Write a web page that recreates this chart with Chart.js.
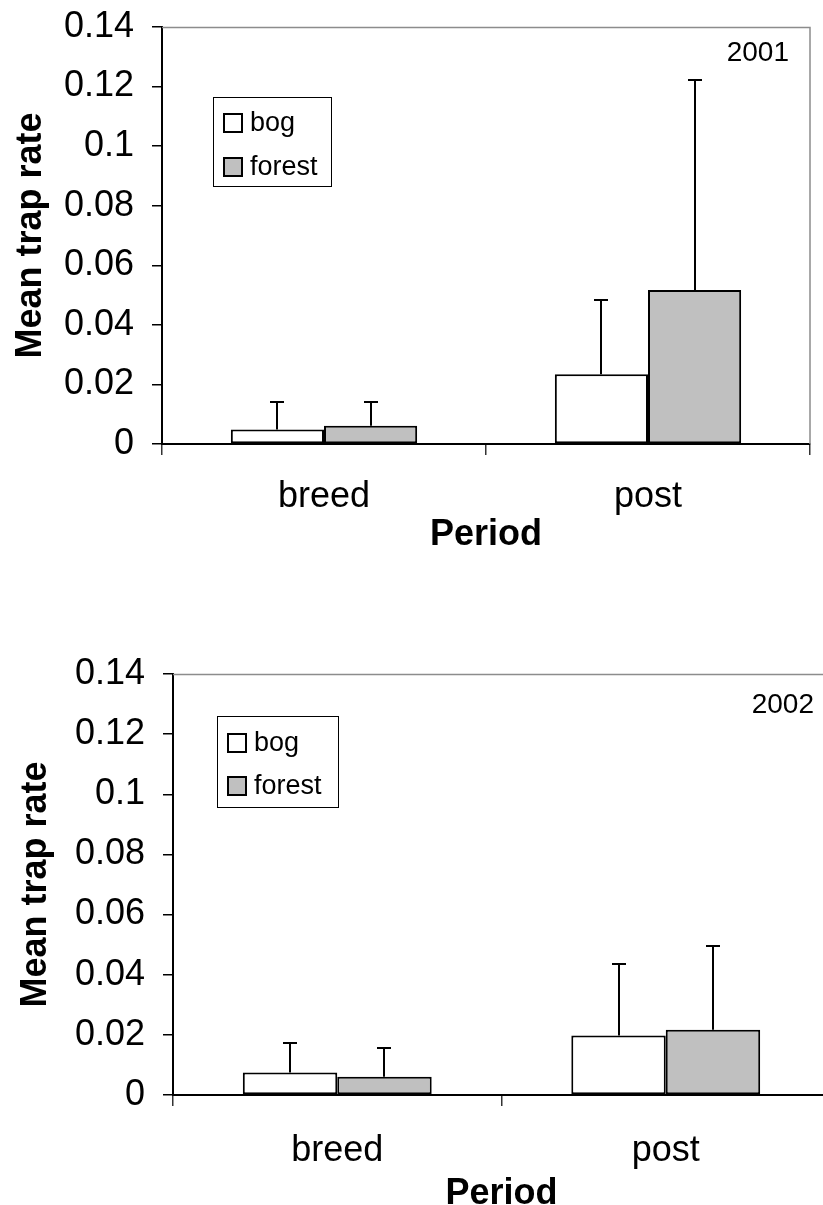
<!DOCTYPE html>
<html><head><meta charset="utf-8">
<script src="https://cdn.jsdelivr.net/npm/chart.js@4.4.1/dist/chart.umd.min.js"></script>
<style>
html,body{margin:0;padding:0;background:#fff;overflow:hidden;width:823px;height:1205px;position:relative;}
canvas{position:absolute;left:0;}
#c1{top:0}
#c2{top:640px}
</style></head><body>
<canvas id="c1" width="823" height="600"></canvas>
<canvas id="c2" width="850" height="600"></canvas>
<script>
const categories = ['breed', 'post'];
const seriesNames = ['bog', 'forest'];
const yTickLabels = ['0', '0.02', '0.04', '0.06', '0.08', '0.1', '0.12', '0.14'];
const yearLabels = ['2001', '2002'];

const bog2001 = [0.0049, 0.0234];
const forest2001 = [0.0061, 0.0517];
const bogErr2001 = [0.0092, 0.0251];
const forestErr2001 = [0.0080, 0.0704];

const bog2002 = [0.0075, 0.0198];
const forest2002 = [0.0061, 0.0217];
const bogErr2002 = [0.0099, 0.0237];
const forestErr2002 = [0.0094, 0.0280];

const FONT = "'Liberation Sans', Arial, Helvetica, sans-serif";
const seriesColors = ['#ffffff', '#c0c0c0'];

const decor = {
  id: 'decor',
  afterDatasetsDraw(chart, args, o) {
    const ctx = chart.ctx, y = chart.scales.y;
    ctx.save();
    ctx.strokeStyle = '#000'; ctx.lineWidth = 2;
    chart.data.datasets.forEach((ds, i) => {
      chart.getDatasetMeta(i).data.forEach((bar, j) => {
        const top = Math.round(y.getPixelForValue(ds.data[j] + ds.errors[j]));
        const x = Math.round(bar.x);
        ctx.beginPath();
        ctx.moveTo(x, bar.y); ctx.lineTo(x, top);
        ctx.moveTo(x - 7, top); ctx.lineTo(x + 7, top);
        ctx.stroke();
      });
    });
    ctx.restore();
  },
  afterDraw(chart, args, o) {
    const ctx = chart.ctx, ca = chart.chartArea;
    ctx.save();
    ctx.strokeStyle = '#8c8c8c'; ctx.lineWidth = 1.5;
    ctx.beginPath();
    ctx.moveTo(ca.left, ca.top + 0.5); ctx.lineTo(ca.right, ca.top + 0.5);
    ctx.lineTo(ca.right, ca.bottom);
    ctx.stroke();
    ctx.fillStyle = '#000';
    ctx.font = '28px ' + FONT;
    ctx.textAlign = 'right'; ctx.textBaseline = 'middle';
    ctx.fillText(o.year, o.yearX, o.yearY);
    const L = o.legend;
    ctx.fillStyle = '#fff';
    ctx.fillRect(L.x, L.y, L.w, L.h);
    ctx.strokeStyle = '#000'; ctx.lineWidth = 1;
    ctx.strokeRect(L.x + 0.5, L.y + 0.5, L.w, L.h);
    ctx.font = '27px ' + FONT;
    ctx.textAlign = 'left';
    chart.data.datasets.forEach((ds, i) => {
      const sy = L.swY[i];
      ctx.fillStyle = ds.backgroundColor;
      ctx.fillRect(L.swX, sy, L.sw, L.sw);
      ctx.strokeStyle = '#000'; ctx.lineWidth = 2;
      ctx.strokeRect(L.swX, sy, L.sw, L.sw);
      ctx.fillStyle = '#000';
      ctx.fillText(ds.label, L.textX, sy + L.sw / 2 + 1);
    });
    ctx.restore();
  }
};

function makeChart(id, bog, forest, bogErr, forestErr, lay) {
  return new Chart(document.getElementById(id), {
    type: 'bar',
    data: {
      labels: categories,
      datasets: [
        { label: seriesNames[0], data: bog, errors: bogErr, backgroundColor: seriesColors[0],
          borderColor: '#000', borderWidth: 2, borderSkipped: false },
        { label: seriesNames[1], data: forest, errors: forestErr, backgroundColor: seriesColors[1],
          borderColor: '#000', borderWidth: 2, borderSkipped: false }
      ]
    },
    options: {
      responsive: false,
      animation: false,
      devicePixelRatio: 1,
      layout: { padding: { top: lay.top, right: lay.right, left: 0, bottom: 0 } },
      datasets: { bar: { categoryPercentage: 0.575, barPercentage: 1.0 } },
      plugins: {
        legend: { display: false },
        tooltip: { enabled: false },
        decor: { year: lay.year, yearX: lay.yearX, yearY: lay.yearY, legend: lay.legend }
      },
      scales: {
        x: {
          offset: true,
          afterFit(s) { s.height = lay.xH; s.paddingLeft = 0; s.paddingRight = 0; },
          grid: { offset: true, drawOnChartArea: false, drawTicks: true, tickLength: 11, color: '#333', lineWidth: 1.5 },
          border: { display: true, color: '#000', width: 2 },
          ticks: { color: '#000', font: { family: FONT, size: 36 }, padding: lay.xPad },
          title: { display: true, text: 'Period', color: '#000',
                   font: { family: FONT, size: 36, weight: 'bold' }, padding: { top: 0, bottom: lay.titlePad } }
        },
        y: {
          min: 0, max: 0.14,
          afterFit(s) { s.width = lay.yW; s.paddingTop = 0; s.paddingBottom = 0; },
          ticks: { stepSize: 0.02, color: '#000', font: { family: FONT, size: 36 }, padding: 18,
                   callback: (v, i) => yTickLabels[i] },
          grid: { drawOnChartArea: false, drawTicks: true, tickLength: 10, color: '#000', lineWidth: 1.5 },
          border: { display: true, color: '#000', width: 2 },
          title: { display: true, text: 'Mean trap rate', color: '#000',
                   font: { family: FONT, size: 36, weight: 'bold' }, padding: { top: lay.yTitlePad, bottom: 0 } }
        }
      }
    },
    plugins: [decor]
  });
}

makeChart('c1', bog2001, forest2001, bogErr2001, forestErr2001, {
  top: 27, right: 13, xH: 156, yW: 162, xPad: 20, titlePad: 43, yTitlePad: 9,
  year: yearLabels[0], yearX: 789, yearY: 53,
  legend: { x: 213, y: 97, w: 118, h: 89, swX: 224, sw: 18, swY: [114, 158], textX: 250 }
});

makeChart('c2', bog2002, forest2002, bogErr2002, forestErr2002, {
  top: 34, right: 20, xH: 145, yW: 173, xPad: 23, titlePad: 24, yTitlePad: 14,
  year: yearLabels[1], yearX: 814, yearY: 65,
  legend: { x: 217, y: 76, w: 121, h: 91, swX: 228, sw: 18, swY: [94, 137], textX: 254 }
});
</script>
</body></html>
